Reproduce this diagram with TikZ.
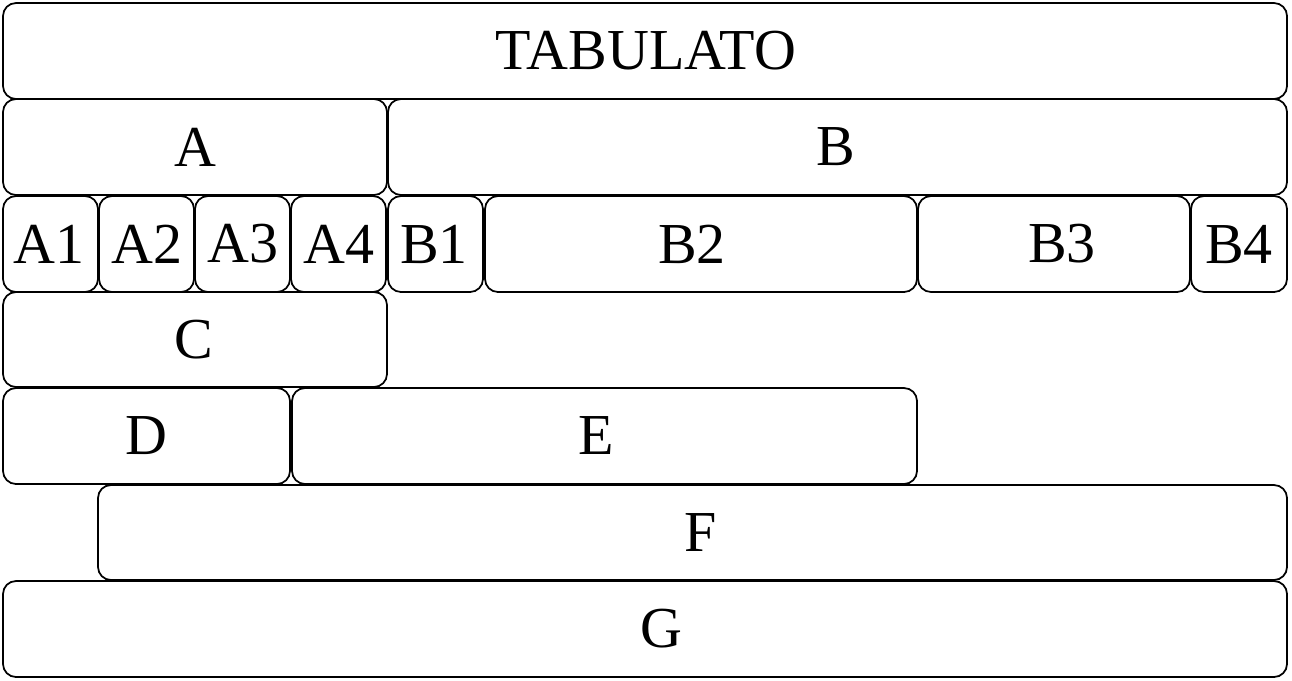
\documentclass[tikz,border=0pt]{standalone}
\usepackage{fontspec}
\setmainfont{Liberation Serif}
\usetikzlibrary{fit}
\begin{document}
\begin{tikzpicture}[x=0.02cm, y=-0.02cm,
  every node/.style={font=\fontsize{33}{40}\selectfont, inner sep=0pt, outer sep=0pt},
  cell/.style={draw, line width=1pt, rounded corners=0.26cm}]
\useasboundingbox (0,0) rectangle (1292,680);
\foreach \n/\xa/\ya/\xb/\yb/\tx/\t in {
  tab/3/3/1287/99/646/TABULATO,
  a/3/99/387/195/195/A, b/388/99/1287/195/836/B,
  a1/3/196/98/292/49/A1, a2/99/196/194/292/147/A2, a3/195/196/290/292/243/A3, a4/291/196/386/292/339/A4,
  b1/388/196/483/292/434/B1, b2/485/196/917/292/692/B2, b3/918/196/1190/292/1062/B3, b4/1191/196/1287/292/1239/B4,
  c/3/292/387/387/194/C,
  d/3/388/290/484/146/D, e/292/388/917/484/596/E,
  f/98/485/1287/580/701/F,
  g/3/581/1287/677/661/G}{
  \node[cell, fit={(\xa,\ya) (\xb,\yb)}] (\n) {};
  \node (\n-t) at (\tx,{(\ya+\yb)/2}) {\t};
}
\end{tikzpicture}
\end{document}
